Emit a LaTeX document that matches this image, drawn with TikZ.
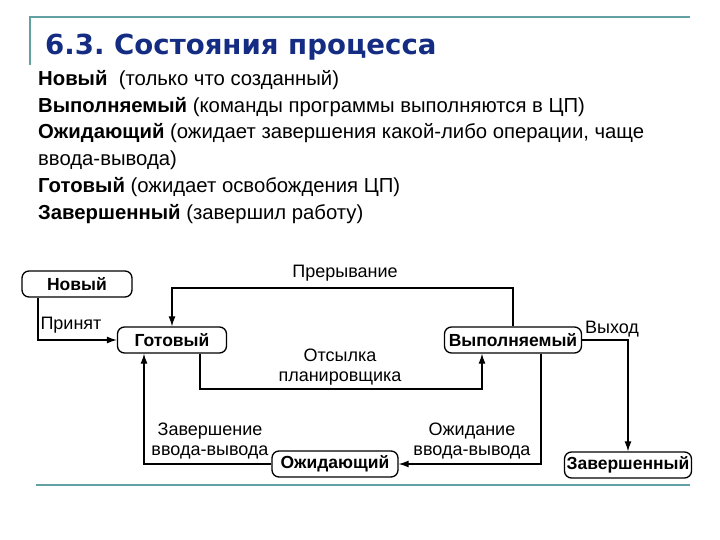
\documentclass[tikz,border=0pt]{standalone}
\usepackage{fontspec}
\setmainfont{Liberation Sans}
\newfontfamily\titlefont{DejaVu Sans}
\usetikzlibrary{arrows.meta}
\definecolor{rule}{RGB}{98,160,164}
\definecolor{titleblue}{RGB}{20,44,130}
\frenchspacing
\begin{document}
\begin{tikzpicture}[x=1pt, y=-1pt,
    state/.style={draw, line width=1.3pt, rounded corners=7pt, minimum height=26pt,
        inner sep=2pt, font=\bfseries\fontsize{17.5}{20}\selectfont},
    lbl/.style={font=\fontsize{18}{20}\selectfont, align=center},
    arr/.style={line width=1.2pt, -{Latex[length=10pt,width=7pt]}},
    body/.style={anchor=base west, inner sep=0pt, font=\fontsize{20.3}{24}\selectfont}]
    \useasboundingbox (0,0) rectangle (720,540);
    % рамка слайда
    \draw[rule, line width=2pt] (30,65) -- (30,17) -- (690,17);
    \draw[rule, line width=2.5pt] (36,485) -- (690,485);
    \node[anchor=base west, inner sep=0pt, text=titleblue,
        font=\titlefont\bfseries\fontsize{27.6}{32}\selectfont] (title) at (45,55) {6.3. Состояния процесса};
    % пояснения
    \node[body] (t1) at (38,86) {\textbf{Новый}\ \ (только что созданный)};
    \node[body] (t2) at (38,113) {\textbf{Выполняемый} (команды программы выполняются в ЦП)};
    \node[body] (t3) at (38,139) {\textbf{Ожидающий} (ожидает завершения какой-либо операции, чаще};
    \node[body] (t4) at (38,166) {ввода-вывода)};
    \node[body] (t5) at (38,193) {\textbf{Готовый} (ожидает освобождения ЦП)};
    \node[body] (t6) at (38,219) {\textbf{Завершенный} (завершил работу)};
    % состояния
    \node[state, minimum width=110pt] (new) at (77,284) {Новый};
    \node[state, minimum width=109pt] (ready) at (172,340) {Готовый};
    \node[state, minimum width=137pt] (run) at (513,340) {Выполняемый};
    \node[state, minimum width=126pt] (wait) at (335,464) {Ожидающий};
    \node[state, minimum width=127pt] (done) at (628,465) {Завершенный};
    \coordinate (top) at (340,288);
    \coordinate (low) at (340,389);
    % переходы
    \draw[arr] ([xshift=-39pt]new.south) |- (ready.west);
    \node[lbl] (accept) at (71,325) {Принят};
    \draw[arr] (run.north) |- (top) -| (ready.north);
    \node[lbl] (intr) at (345,273) {Прерывание};
    \draw[arr] ([xshift=28pt]ready.south) |- (low) -| ([xshift=-31pt]run.south);
    \node[lbl] (disp) at (340,367) {Отсылка\\планировщика};
    \draw[arr] (run.east) -| (done.north);
    \node[lbl] (exit) at (612,329) {Выход};
    \draw[arr] ([xshift=28pt]run.south) |- (wait.east);
    \node[lbl] (iowait) at (472,441) {Ожидание\\ввода-вывода};
    \draw[arr] (wait.west) -| ([xshift=-28pt]ready.south);
    \node[lbl] (iodone) at (210,441) {Завершение\\ввода-вывода};
\end{tikzpicture}
\end{document}
